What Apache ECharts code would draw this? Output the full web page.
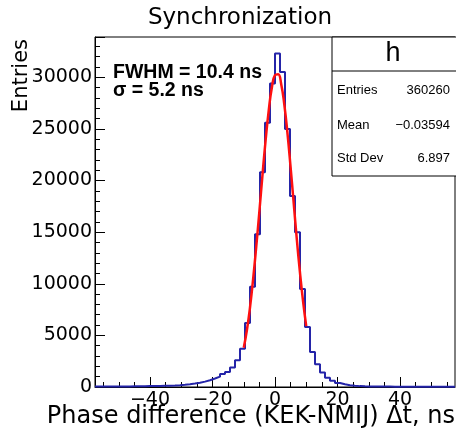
<!DOCTYPE html>
<html>
<head>
<meta charset="utf-8">
<title>Synchronization</title>
<script src="https://cdn.jsdelivr.net/npm/echarts@6/dist/echarts.min.js"></script>
<style>
    html, body { margin: 0; padding: 0; background: #fff; }
    #chart { width: 456px; height: 439px; }
</style>
</head>
<body>
<div id="chart"></div>
<script>
// histogram binning (ns)
const xLow = -57.6;
const xHigh = 57.6;
const binWidth = 1.6;

// entries per bin (72 bins)
const counts = [
    40, 45, 40, 50, 55, 50, 60, 65, 70, 75,
    85, 90, 100, 115, 130, 150, 180, 220, 270, 330,
    420, 520, 650, 820, 1000, 1250, 1450, 1900, 2600, 3700,
    6200, 9700, 14800, 20800, 25600, 29400, 32300, 30500, 25000, 18500,
    15000, 9500, 5800, 3400, 2200, 1400, 900, 600, 380, 260,
    170, 120, 85, 65, 55, 50, 45, 40, 40, 35,
    35, 30, 30, 30, 25, 25, 25, 20, 20, 20,
    20, 20
];

// gaussian fit curve points (ns, entries)
const fitX = [-10, -9, -8, -7, -6, -5, -4, -3, -2, -1, 0, 1, 2, 3, 4, 5, 6, 7, 8, 9, 10];
const fitY = [3800, 5500, 7700, 10450, 13600, 17000, 20550, 23900, 26800, 29000, 30200,
              30300, 29300, 27300, 24550, 21250, 17750, 14250, 11050, 8250, 5900];

// axis ticks
const xMajorTicks = [-40, -20, 0, 20, 40];
const xMinorTicks = [-55, -50, -45, -35, -30, -25, -15, -10, -5, 5, 10, 15, 25, 30, 35, 45, 50, 55];
const yMax = 33900;
const yMinorTicks = [1000, 2000, 3000, 4000, 6000, 7000, 8000, 9000, 11000, 12000, 13000, 14000,
                     16000, 17000, 18000, 19000, 21000, 22000, 23000, 24000, 26000, 27000, 28000, 29000,
                     31000, 32000, 33000];

// stats box
const statNames = ['Entries', 'Mean', 'Std Dev'];
const statValues = ['360260', '\u22120.03594', '6.897'];

// build step outline from bin edges
function histSteps() {
    const pts = [];
    counts.forEach((v, i) => {
        const lo = xLow + i * binWidth;
        pts.push([lo, v], [lo + binWidth, v]);
    });
    return pts;
}

function fitPoints() {
    return fitX.map((x, i) => [x, fitY[i]]);
}

const FONT = 'DejaVu Sans';
const grid = { left: 95, right: 1, top: 37, bottom: 52 };

// stats box graphics
function statsGraphics() {
    const items = [
        { type: 'rect', shape: { x: 332, y: 37, width: 130, height: 139 },
          style: { fill: '#fff', stroke: '#000', lineWidth: 1 }, z: 100 },
        { type: 'line', shape: { x1: 332, y1: 71, x2: 456, y2: 71 },
          style: { stroke: '#000', lineWidth: 1 }, z: 101 },
        { type: 'text', x: 393, y: 54, z: 101,
          style: { text: 'h', font: '27px "Liberation Sans"', fill: '#000', align: 'center', verticalAlign: 'middle' } }
    ];
    const rowY = [90, 125, 158];
    statNames.forEach((name, i) => {
        items.push({ type: 'text', x: 337, y: rowY[i], z: 101,
            style: { text: name, font: '13px "Liberation Sans"', fill: '#000', align: 'left', verticalAlign: 'middle' } });
        items.push({ type: 'text', x: 450, y: rowY[i], z: 101,
            style: { text: statValues[i], font: '13px "Liberation Sans"', fill: '#000', align: 'right', verticalAlign: 'middle' } });
    });
    return items;
}

const chart = echarts.init(document.getElementById('chart'), null, { renderer: 'canvas' });

chart.setOption({
    animation: false,
    backgroundColor: '#fff',
    grid: Object.assign({ show: true, borderColor: '#000', borderWidth: 1, backgroundColor: 'transparent' }, grid),
    xAxis: [{
        type: 'value', min: xLow, max: xHigh, position: 'bottom',
        axisLine: { show: true, onZero: false, lineStyle: { color: '#000', width: 1 } },
        axisTick: { show: true, inside: true, length: 10, customValues: xMajorTicks, lineStyle: { color: '#000' } },
        axisLabel: { customValues: xMajorTicks, color: '#000', fontFamily: FONT, fontSize: 19, margin: 4,
                     formatter: v => (v < 0 ? '\u2212' + Math.abs(v) : String(v)) },
        splitLine: { show: false }
    }, {
        type: 'value', min: xLow, max: xHigh, position: 'bottom',
        axisLine: { show: false, onZero: false },
        axisTick: { show: true, inside: true, length: 5, customValues: xMinorTicks, lineStyle: { color: '#000' } },
        axisLabel: { show: false },
        splitLine: { show: false }
    }],
    yAxis: [{
        type: 'value', min: 0, max: yMax, interval: 5000, position: 'left',
        axisLine: { show: true, onZero: false, lineStyle: { color: '#000', width: 1 } },
        axisTick: { show: true, inside: true, length: 10, lineStyle: { color: '#000' } },
        axisLabel: { color: '#000', fontFamily: FONT, fontSize: 19, margin: 3,
                     formatter: v => (v % 5000 === 0 ? String(v) : '') },
        splitLine: { show: false }
    }, {
        type: 'value', min: 0, max: yMax, position: 'left',
        axisLine: { show: false, onZero: false },
        axisTick: { show: true, inside: true, length: 5, customValues: yMinorTicks, lineStyle: { color: '#000' } },
        axisLabel: { show: false },
        splitLine: { show: false }
    }],
    series: [{
        name: 'h', type: 'line', data: histSteps(),
        showSymbol: false, symbol: 'none',
        lineStyle: { color: '#2424a8', width: 2 },
        z: 2
    }, {
        name: 'fit', type: 'line', data: fitPoints(),
        showSymbol: false, symbol: 'none', smooth: true,
        lineStyle: { color: '#ff1010', width: 2.5 },
        z: 3
    }],
    graphic: [
        { type: 'text', x: 240, y: 18,
          style: { text: 'Synchronization', font: '23px "DejaVu Sans"', fill: '#000', align: 'center', verticalAlign: 'middle' } },
        { type: 'text', x: 22, y: 39, rotation: Math.PI / 2,
          style: { text: 'Entries', font: '21px "DejaVu Sans"', fill: '#000', align: 'right', verticalAlign: 'middle' } },
        { type: 'text', x: 455, y: 417,
          style: { text: 'Phase difference (KEK-NMIJ) \u0394t, ns', font: '24px "DejaVu Sans"', fill: '#000', align: 'right', verticalAlign: 'middle' } },
        { type: 'text', x: 113, y: 73,
          style: { text: 'FWHM = 10.4 ns', font: 'bold 19.5px "Liberation Sans"', fill: '#000', align: 'left', verticalAlign: 'middle' } },
        { type: 'text', x: 113, y: 91,
          style: { text: '\u03c3 = 5.2 ns', font: 'bold 19.5px "Liberation Sans"', fill: '#000', align: 'left', verticalAlign: 'middle' } }
    ].concat(statsGraphics())
});
</script>
</body>
</html>
